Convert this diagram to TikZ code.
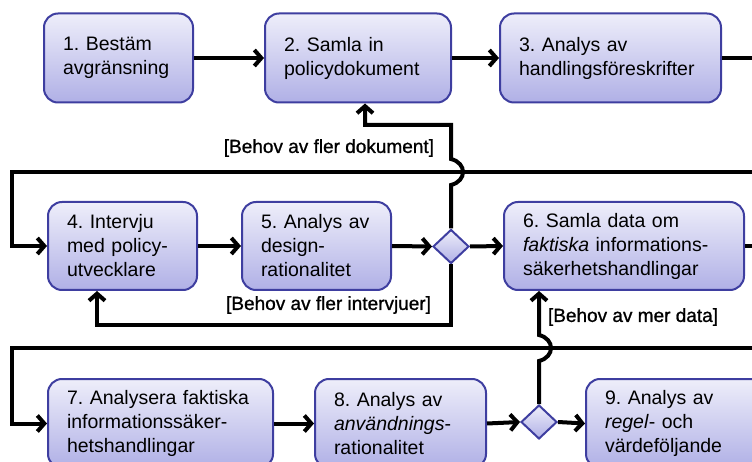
\documentclass[tikz,border=0pt]{standalone}
\usepackage{fontspec}
\setmainfont{Liberation Sans}
\newfontfamily\lblfont[FakeBold=1]{Liberation Sans}
\usetikzlibrary{shapes.geometric,arrows.meta}
\definecolor{actborder}{RGB}{62,62,160}
\definecolor{acttop}{RGB}{238,238,250}
\definecolor{actbottom}{RGB}{176,176,230}
\frenchspacing

\begin{document}
\begin{tikzpicture}[x=1pt,y=-1pt,line width=4pt,>={Straight Barb[length=7pt,width=16pt]}]
        %
        % `act' is used for the activity boxes.
        % `decision' is used for the diamonds.
        % `flow' is used for all connectors, `guard' for the bracketed labels.
        \tikzstyle{act} = [draw=actborder,line width=2pt,rounded corners=14pt,top color=acttop,bottom color=actbottom,align=left,inner xsep=19pt,inner ysep=0pt,minimum height=89pt,font=\fontsize{19.5}{24}\selectfont]
        \tikzstyle{decision} = [draw=actborder,line width=2pt,shape=diamond,top color=acttop,bottom color=actbottom,minimum width=36pt,minimum height=34pt,inner sep=0pt]
        \tikzstyle{flow} = [->,line width=4pt]
        \tikzstyle{guard} = [font=\lblfont\fontsize{19}{22}\selectfont,inner sep=0pt]
        %
        \useasboundingbox (0,0) rectangle (752,462);
        \clip (0,0) rectangle (752,462);
        %
        % Row 1
        \node[act,text width=111pt] (b1) at (118.5,58) {1. Bestäm\\avgränsning};
        \node[act,text width=148pt] (b2) at (358,58) {2. Samla in\\policydokument};
        \node[act,text width=183pt] (b3) at (610.5,58) {3. Analys av\\handlingsföreskrifter};
        %
        % Row 2
        \node[act,text width=111pt,minimum height=88pt] (b4) at (122.5,246) {4. Intervju\\med policy-\\utvecklare};
        \node[act,text width=111pt,minimum height=88pt] (b5) at (316.5,246) {5. Analys av\\design-\\rationalitet};
        \node[decision] (d1) at (451,246.5) {};
        \node[act,text width=202pt,minimum height=88pt] (b6) at (624,246) {6. Samla data om\\\textit{faktiska} informations-\\säkerhetshandlingar};
        %
        % Row 3
        \node[act,text width=187pt] (b7) at (160.5,423.5) {7. Analysera faktiska\\informationssäker-\\hetshandlingar};
        \node[act,text width=133pt] (b8) at (400.5,423.5) {8. Analys av\\\textit{användnings}-\\rationalitet};
        \node[decision] (d2) at (539,422) {};
        \node[act,text width=146pt] (b9) at (678,423.5) {9. Analys av\\\textit{regel}- och\\värdeföljande};
        %
        % Turning points
        \coordinate (ret1a) at (775,172);
        \coordinate (ret1b) at (12,172);
        \coordinate (ret2a) at (775,348);
        \coordinate (ret2b) at (12,348);
        \coordinate (fb) at (365,125);
        \coordinate (fi) at (97,325);
        %
        % Forward flow
        \draw[flow] (b1.east) -- (b2.west);
        \draw[flow] (b2.east) -- (b3.west);
        \draw[flow] (b3.east) -| (ret1a) -- (ret1b) |- (b4.west);
        \draw[flow] (b4.east) -- (b5.west);
        \draw[flow] (b5.east) -- (d1.west);
        \draw[flow] (d1.east) -- (b6.west);
        \draw[flow] (b6.east) -| (ret2a) -- (ret2b) |- (b7.west);
        \draw[flow] (b7.east) -- (b8.west);
        \draw[flow] (b8.east) -- (d2.west);
        \draw[flow] (d2.east) -- (b9.west);
        %
        % Loops back (with jumps over the return lines)
        \draw[flow] (d1.north) -- (451,185) .. controls (467,181) and (467,163) .. (451,159) |- (fb) -- (fb |- b2.south);
        \draw[flow] (d1.south) |- (fi) -- (fi |- b4.south);
        \draw[flow] (d2.north) -- (539,361) .. controls (555,357) and (555,339) .. (539,335) -- (d2.north |- b6.south);
        %
        % Guards
        \node[guard,anchor=east] (g1) at (436,148) {[Behov av fler dokument]};
        \node[guard,anchor=east] (g2) at (433,305) {[Behov av fler intervjuer]};
        \node[guard,anchor=west] (g3) at (546,317) {[Behov av mer data]};
        %
\end{tikzpicture}
\end{document}
